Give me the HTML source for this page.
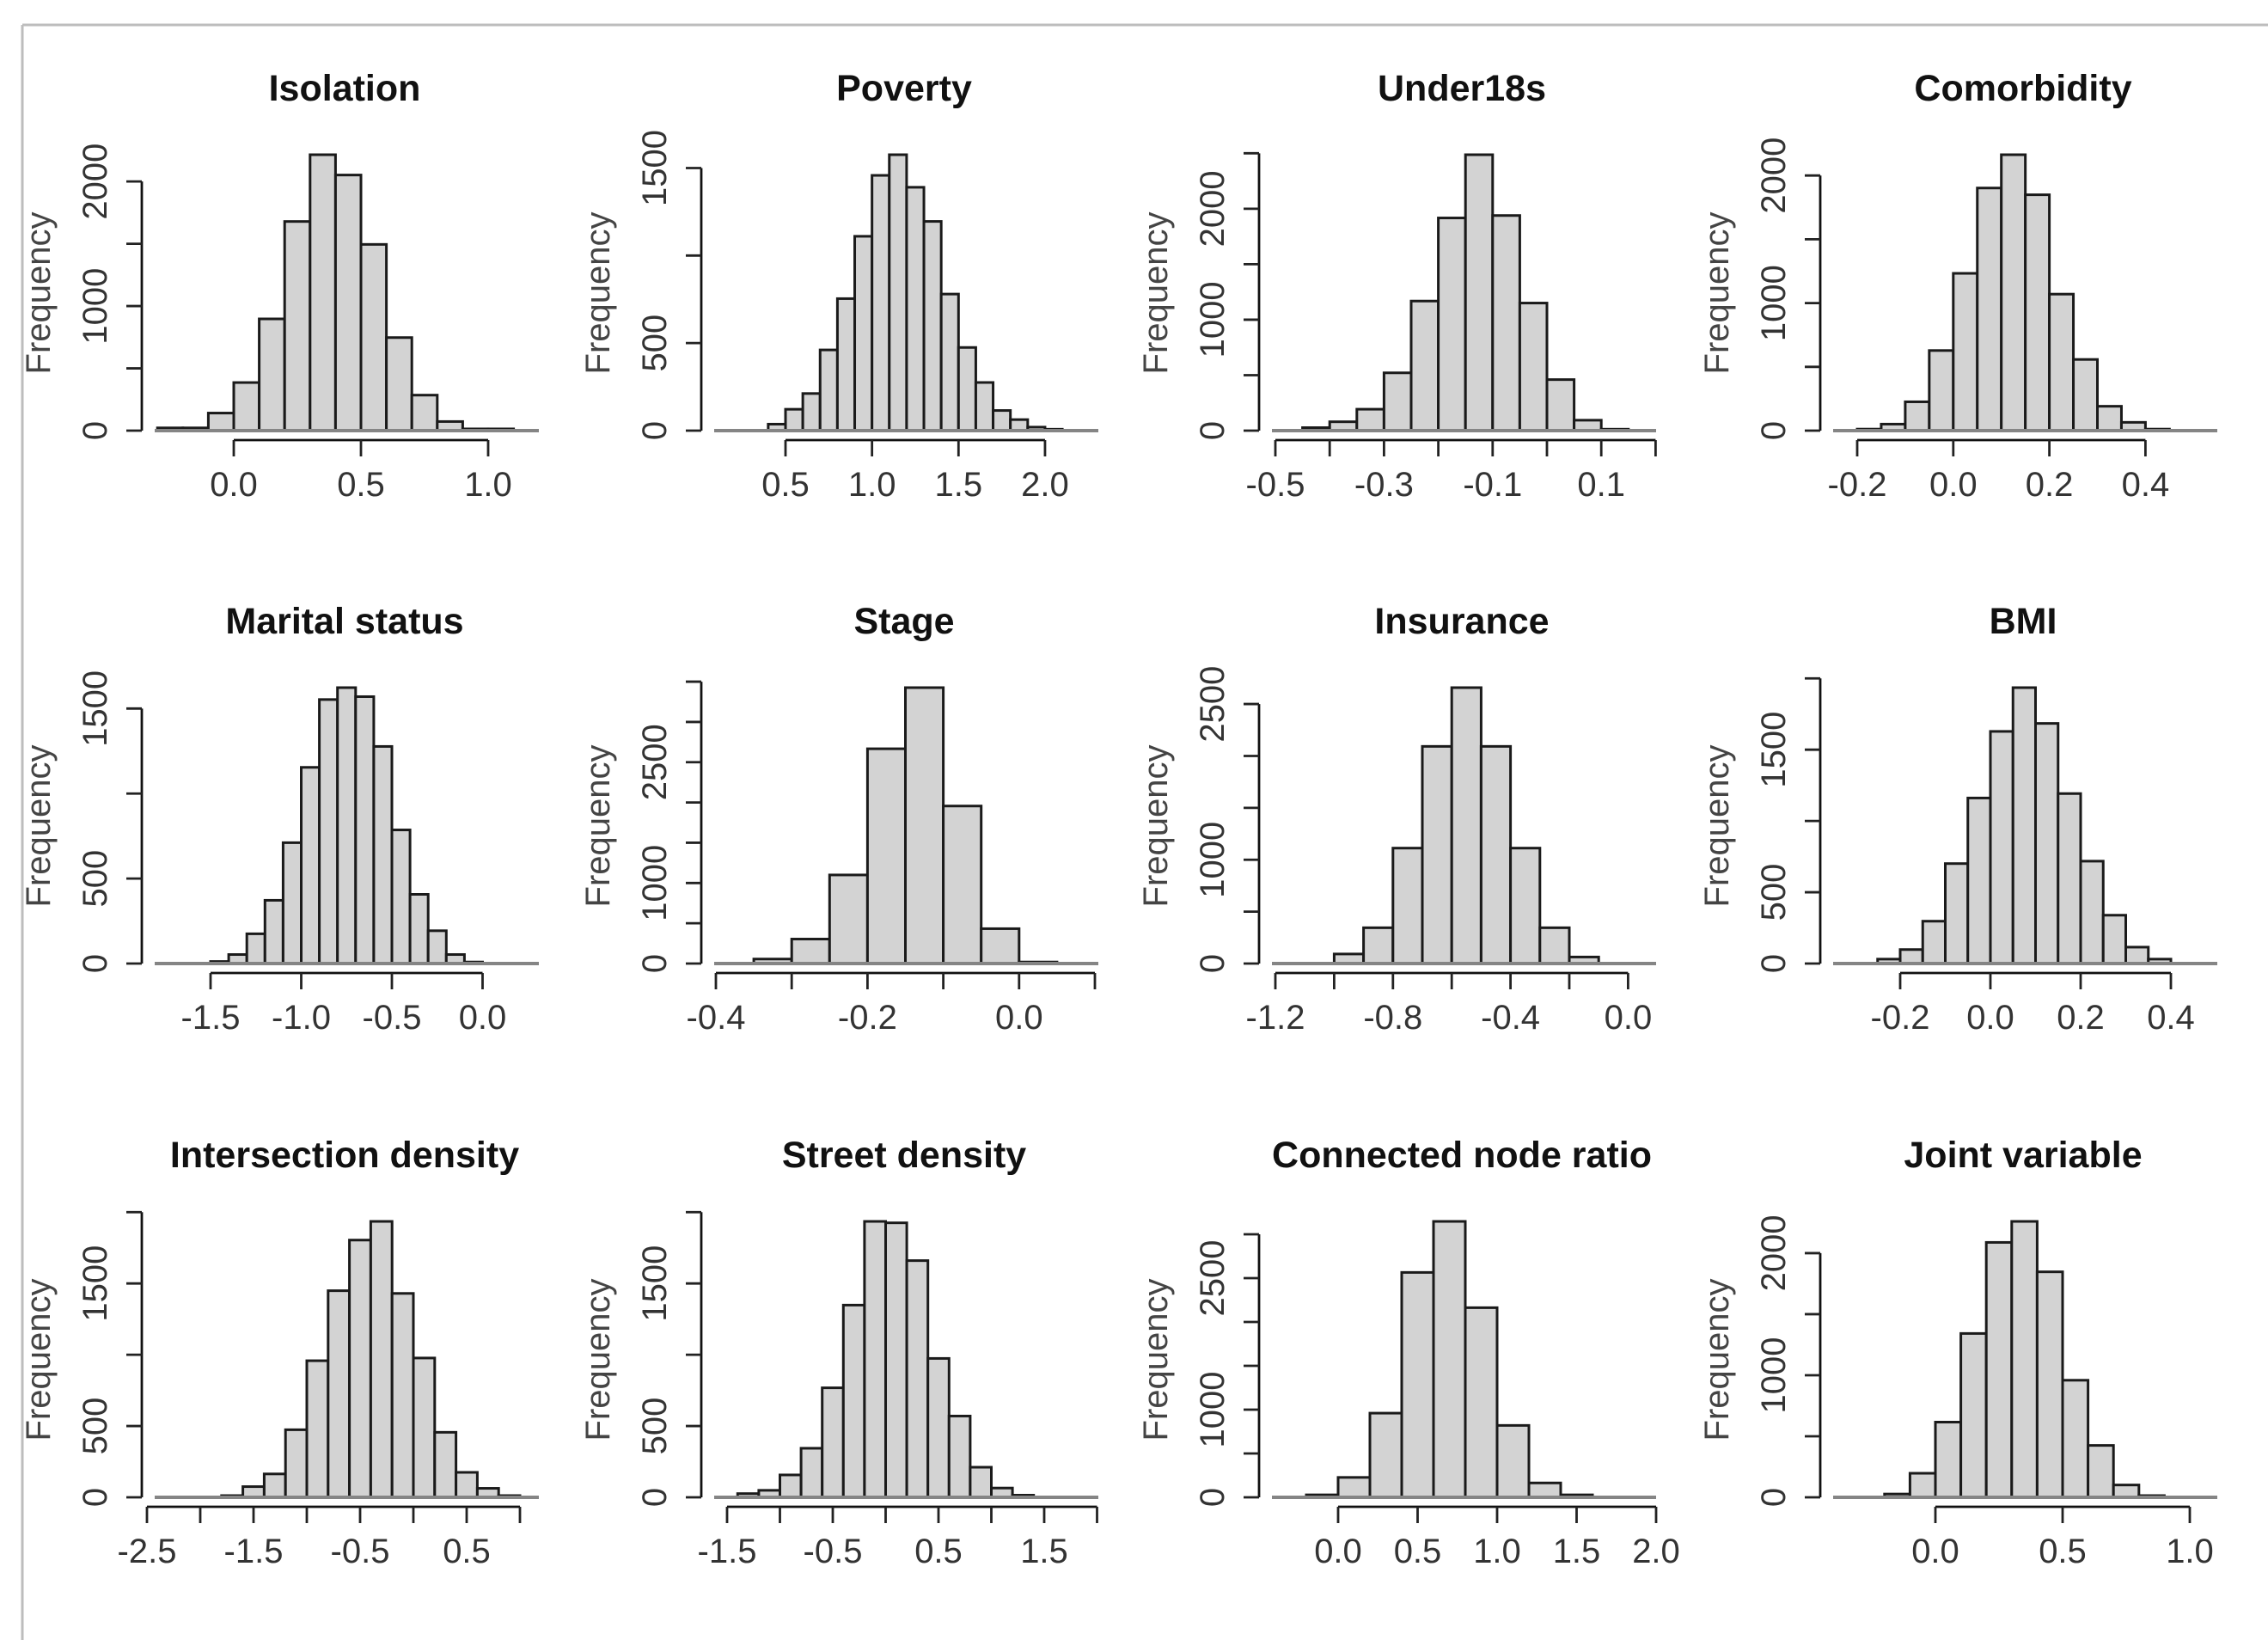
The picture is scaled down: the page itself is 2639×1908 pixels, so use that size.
<!DOCTYPE html>
<html><head><meta charset="utf-8">
<style>
html,body{margin:0;padding:0;background:#fff;}
svg{display:block;}
text{font-family:"Liberation Sans",Arial,sans-serif;}
</style></head>
<body>
<svg id="chart" width="2639" height="1908" viewBox="0 0 2639 1908" xmlns="http://www.w3.org/2000/svg">
<rect x="0" y="0" width="2639" height="1908" fill="#fff"/>
<line x1="26" y1="29" x2="2639" y2="29" stroke="#bdbdbd" stroke-width="3"/>
<line x1="26" y1="29" x2="26" y2="1908" stroke="#bdbdbd" stroke-width="3"/>
</svg>
<script>
// ---- data ----
const isolationBreaks = [-0.3,-0.2,-0.1,0.0,0.1,0.2,0.3,0.4,0.5,0.6,0.7,0.8,0.9,1.0,1.1];
const isolationCounts = [22,22,141,386,897,1679,2215,2052,1495,747,285,73,14,14];
const povertyBreaks = [0.4,0.5,0.6,0.7,0.8,0.9,1.0,1.1,1.2,1.3,1.4,1.5,1.6,1.7,1.8,1.9,2.0,2.1];
const povertyCounts = [37,122,212,461,754,1110,1458,1576,1390,1195,780,475,275,115,63,20,8];
const under18Breaks = [-0.45,-0.4,-0.35,-0.3,-0.25,-0.2,-0.15,-0.1,-0.05,0.0,0.05,0.1,0.15];
const under18Counts = [27,80,193,521,1168,1917,2487,1939,1150,460,94,13];
const comorbBreaks = [-0.2,-0.15,-0.1,-0.05,0.0,0.05,0.1,0.15,0.2,0.25,0.3,0.35,0.4,0.45];
const comorbCounts = [12,51,226,628,1233,1902,2163,1849,1070,558,191,65,12];
const maritalBreaks = [-1.5,-1.4,-1.3,-1.2,-1.1,-1.0,-0.9,-0.8,-0.7,-0.6,-0.5,-0.4,-0.3,-0.2,-0.1,0.0];
const maritalCounts = [12,53,175,372,711,1154,1553,1623,1570,1277,786,407,193,53,9];
const stageBreaks = [-0.35,-0.3,-0.25,-0.2,-0.15,-0.1,-0.05,0.0,0.05];
const stageCounts = [56,304,1100,2667,3426,1956,433,19];
const insuranceBreaks = [-1.0,-0.9,-0.8,-0.7,-0.6,-0.5,-0.4,-0.3,-0.2,-0.1];
const insuranceCounts = [92,345,1112,2092,2658,2092,1112,345,63];
const bmiBreaks = [-0.25,-0.2,-0.15,-0.1,-0.05,0.0,0.05,0.1,0.15,0.2,0.25,0.3,0.35,0.4];
const bmiCounts = [31,98,297,701,1161,1628,1935,1684,1192,718,339,115,31];
const interBreaks = [-1.8,-1.6,-1.4,-1.2,-1.0,-0.8,-0.6,-0.4,-0.2,0.0,0.2,0.4,0.6,0.8,1.0];
const interCounts = [12,75,164,474,958,1449,1804,1935,1430,977,456,175,63,12];
const streetBreaks = [-1.4,-1.2,-1.0,-0.8,-0.6,-0.4,-0.2,0.0,0.2,0.4,0.6,0.8,1.0,1.2,1.4];
const streetCounts = [26,49,157,344,768,1348,1935,1925,1660,974,570,211,65,15];
const connBreaks = [-0.2,0.0,0.2,0.4,0.6,0.8,1.0,1.2,1.4,1.6];
const connCounts = [28,227,960,2565,3147,2163,820,164,28];
const jointBreaks = [-0.2,-0.1,0.0,0.1,0.2,0.3,0.4,0.5,0.6,0.7,0.8,0.9];
const jointCounts = [27,197,616,1342,2088,2260,1847,959,425,101,14];

const titles = ["Isolation","Poverty","Under18s","Comorbidity","Marital status","Stage","Insurance","BMI","Intersection density","Street density","Connected node ratio","Joint variable"];
const xTicks = [
 [0,0.5,1.0],[0.5,1.0,1.5,2.0],[-0.5,-0.4,-0.3,-0.2,-0.1,0.0,0.1,0.2],[-0.2,0.0,0.2,0.4],
 [-1.5,-1.0,-0.5,0.0],[-0.4,-0.3,-0.2,-0.1,0.0,0.1],[-1.2,-1.0,-0.8,-0.6,-0.4,-0.2,0.0],[-0.2,0.0,0.2,0.4],
 [-2.5,-2.0,-1.5,-1.0,-0.5,0.0,0.5,1.0],[-1.5,-1.0,-0.5,0.0,0.5,1.0,1.5,2.0],[0.0,0.5,1.0,1.5,2.0],[0.0,0.5,1.0]
];
const xLabels = [
 ["0.0","0.5","1.0"],["0.5","1.0","1.5","2.0"],["-0.5","-0.3","-0.1","0.1"],["-0.2","0.0","0.2","0.4"],
 ["-1.5","-1.0","-0.5","0.0"],["-0.4","-0.2","0.0"],["-1.2","-0.8","-0.4","0.0"],["-0.2","0.0","0.2","0.4"],
 ["-2.5","-1.5","-0.5","0.5"],["-1.5","-0.5","0.5","1.5"],["0.0","0.5","1.0","1.5","2.0"],["0.0","0.5","1.0"]
];
const yLabels = [
 [0,1000,2000],[0,500,1500],[0,1000,2000],[0,1000,2000],
 [0,500,1500],[0,1000,2500],[0,1000,2500],[0,500,1500],
 [0,500,1500],[0,500,1500],[0,1000,2500],[0,1000,2000]
];
const allBreaks = [isolationBreaks,povertyBreaks,under18Breaks,comorbBreaks,maritalBreaks,stageBreaks,insuranceBreaks,bmiBreaks,interBreaks,streetBreaks,connBreaks,jointBreaks];
const allCounts = [isolationCounts,povertyCounts,under18Counts,comorbCounts,maritalCounts,stageCounts,insuranceCounts,bmiCounts,interCounts,streetCounts,connCounts,jointCounts];

// ---- layout (pixels, not data) ----
const axisXs = [165,816,1465,2118];
const baseYs = [501,1121,1742];
const xAnchorVal = [0,0.5,-0.5,-0.2,-1.5,-0.4,-1.2,-0.2,-2.5,-1.5,0,0];
const xAnchorPx  = [272,914,1484,2161,245,833,1484,2211,171,846,1557,2252];
const xPxPerUnit = [296,201.3,632,559,211,882,342,525,124,123,185,296];
const BAR_H = 321;

const svg = document.getElementById('chart');
const NS = 'http://www.w3.org/2000/svg';
function mk(tag, attrs, parent){
  const e = document.createElementNS(NS, tag);
  for (const k in attrs) e.setAttribute(k, attrs[k]);
  (parent||svg).appendChild(e);
  return e;
}

for (let p = 0; p < 12; p++) {
  const col = p % 4, row = Math.floor(p / 4);
  const ax = axisXs[col], by = baseYs[row];
  const breaks = allBreaks[p], counts = allCounts[p];
  const maxC = Math.max.apply(null, counts);
  const yScale = BAR_H / maxC;
  const xf = v => xAnchorPx[p] + (v - xAnchorVal[p]) * xPxPerUnit[p];
  const yf = c => by - c * yScale;

  const g = mk('g', {});
  
  

  const t = mk('text', {x: ax + 236, y: by - 384, 'text-anchor': 'middle', 'font-size': 43, 'font-weight': 'bold', fill: '#111'}, g);
  t.textContent = titles[p];
  
  

  for (let i = 0; i < counts.length; i++) {
    const x0 = xf(breaks[i]), x1 = xf(breaks[i + 1]);
    const r = mk('rect', {x: x0, y: yf(counts[i]), width: x1 - x0, height: by - yf(counts[i]), fill: '#d3d3d3', stroke: '#1a1a1a', 'stroke-width': 3}, g);
    
    
  }

  const bl = mk('line', {x1: ax + 15, y1: by, x2: ax + 462, y2: by, stroke: '#858585', 'stroke-width': 4}, g);
  
  

  const topTick = Math.floor(maxC * 1.04 / 500) * 500;
  const ya = mk('line', {x1: ax, y1: by, x2: ax, y2: yf(topTick), stroke: '#111', 'stroke-width': 2.8}, g);
  
  
  for (let v = 0; v <= topTick; v += 500) {
    mk('line', {x1: ax - 18, y1: yf(v), x2: ax, y2: yf(v), stroke: '#222', 'stroke-width': 2.8}, g);
  }
  yLabels[p].forEach(v => {
    const yy = yf(v);
    const tl = mk('text', {x: 0, y: 0, transform: 'translate(' + (ax - 41) + ',' + yy + ') rotate(-90)', 'text-anchor': 'middle', 'font-size': 40, fill: '#333'}, g);
    tl.textContent = String(v);
    
    
  });
  const fl = mk('text', {x: 0, y: 0, transform: 'translate(' + (ax - 107) + ',' + (by - 160) + ') rotate(-90)', 'text-anchor': 'middle', 'font-size': 40, fill: '#444'}, g);
  fl.textContent = 'Frequency';
  
  

  const tk = xTicks[p];
  const xa = mk('line', {x1: xf(tk[0]), y1: by + 11, x2: xf(tk[tk.length - 1]), y2: by + 11, stroke: '#111', 'stroke-width': 2.8}, g);
  
  
  tk.forEach(v => {
    mk('line', {x1: xf(v), y1: by + 11, x2: xf(v), y2: by + 30, stroke: '#222', 'stroke-width': 2.8}, g);
  });
  xLabels[p].forEach(s => {
    const xl = mk('text', {x: xf(parseFloat(s)), y: by + 76, 'text-anchor': 'middle', 'font-size': 40, fill: '#333'}, g);
    xl.textContent = s;
    
    
  });
}
</script>
</body></html>
